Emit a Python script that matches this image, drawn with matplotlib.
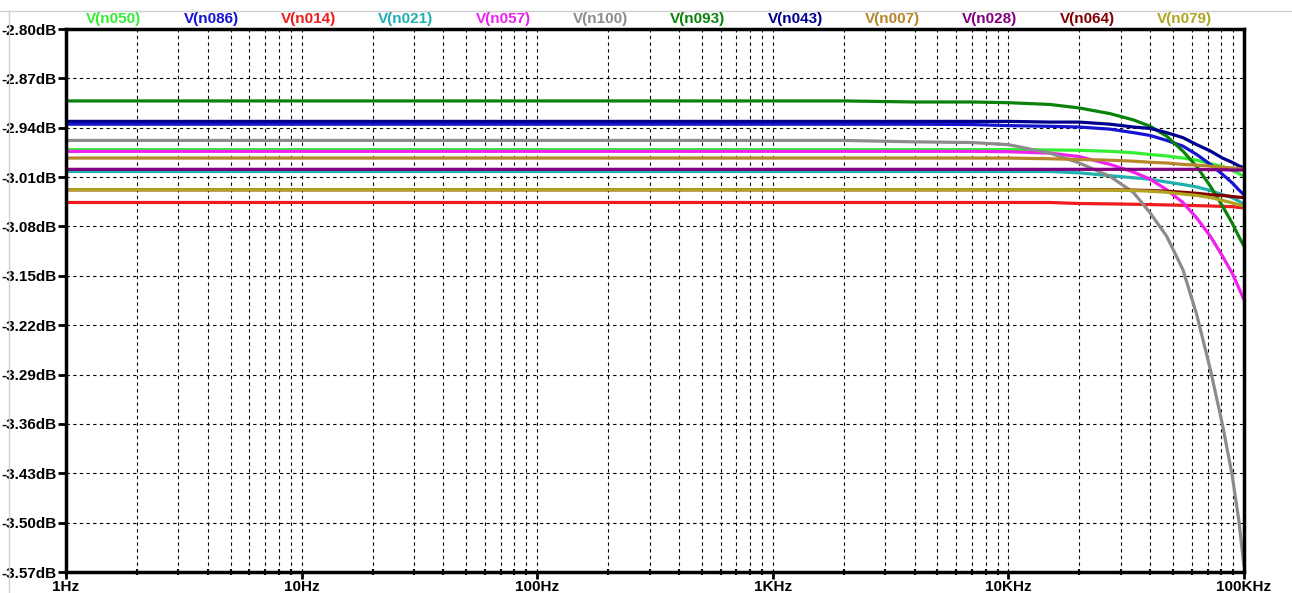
import numpy as np
import matplotlib.pyplot as plt
from matplotlib.lines import Line2D
from matplotlib.ticker import FixedLocator, NullFormatter

# frequency points (Hz) shared by every trace
freq = [1, 1000, 2000, 4000, 7000, 10000, 15000, 20000, 27000, 34000, 40000,
        47000, 55000, 63000, 72000, 81000, 89000, 95000, 100000]

# magnitude in dB
v_n050 = [-2.971, -2.971, -2.971, -2.971, -2.971, -2.971, -2.9715, -2.972, -2.9735, -2.9755,
          -2.978, -2.980, -2.983, -2.986, -2.991, -2.995, -3.000, -3.005, -3.009]
v_n086 = [-2.935, -2.935, -2.935, -2.935, -2.9355, -2.937, -2.938, -2.939, -2.942, -2.947,
          -2.951, -2.958, -2.966, -2.978, -2.992, -3.006, -3.018, -3.028, -3.035]
v_n014 = [-3.046, -3.046, -3.046, -3.046, -3.046, -3.046, -3.046, -3.0475, -3.048, -3.0485,
          -3.049, -3.0495, -3.050, -3.0505, -3.051, -3.0515, -3.052, -3.053, -3.0535]
v_n021 = [-3.002, -3.002, -3.002, -3.002, -3.002, -3.002, -3.002, -3.004, -3.008, -3.011,
          -3.013, -3.017, -3.0205, -3.024, -3.029, -3.035, -3.039, -3.044, -3.049]
v_n057 = [-2.9735, -2.9735, -2.9735, -2.9735, -2.9735, -2.974, -2.976, -2.981, -2.992, -3.003,
          -3.013, -3.028, -3.046, -3.068, -3.094, -3.122, -3.146, -3.167, -3.184]
v_n100 = [-2.958, -2.958, -2.958, -2.960, -2.961, -2.964, -2.976, -2.990, -3.009, -3.032,
          -3.061, -3.094, -3.141, -3.205, -3.283, -3.361, -3.432, -3.496, -3.562]
v_n093 = [-2.902, -2.902, -2.902, -2.9035, -2.9035, -2.9045, -2.907, -2.912, -2.920, -2.929,
          -2.938, -2.952, -2.973, -2.995, -3.023, -3.051, -3.075, -3.094, -3.108]
v_n043 = [-2.931, -2.931, -2.931, -2.931, -2.931, -2.931, -2.932, -2.932, -2.935, -2.939,
          -2.941, -2.947, -2.954, -2.964, -2.973, -2.983, -2.989, -2.994, -2.997]
v_n007 = [-2.983, -2.983, -2.983, -2.983, -2.983, -2.983, -2.984, -2.985, -2.986, -2.9875,
          -2.989, -2.990, -2.992, -2.993, -2.9945, -2.996, -2.997, -2.998, -2.999]
v_n028 = [-2.999, -2.999, -2.999, -2.999, -2.999, -2.999, -2.999, -2.999, -2.999, -2.999,
          -2.999, -2.999, -2.999, -2.999, -2.9995, -2.9995, -3.000, -3.000, -3.000]
v_n064 = [-3.028, -3.028, -3.028, -3.028, -3.028, -3.028, -3.028, -3.028, -3.028, -3.0285,
          -3.029, -3.030, -3.0315, -3.033, -3.035, -3.036, -3.0375, -3.0385, -3.039]
v_n079 = [-3.028, -3.028, -3.028, -3.028, -3.028, -3.028, -3.028, -3.0282, -3.0285, -3.029,
          -3.030, -3.0315, -3.034, -3.036, -3.039, -3.043, -3.0465, -3.049, -3.051]

names = ['V(n050)', 'V(n086)', 'V(n014)', 'V(n021)', 'V(n057)', 'V(n100)',
         'V(n093)', 'V(n043)', 'V(n007)', 'V(n028)', 'V(n064)', 'V(n079)']
series = [v_n050, v_n086, v_n014, v_n021, v_n057, v_n100,
          v_n093, v_n043, v_n007, v_n028, v_n064, v_n079]
colors = ['#33ee33', '#1414d2', '#ee1c1c', '#20b0b0', '#f020f0', '#8c8c8c',
          '#0a820a', '#00008c', '#b8862a', '#800080', '#800000', '#b0a420']

y_ticks = [-2.80, -2.87, -2.94, -3.01, -3.08, -3.15, -3.22, -3.29, -3.36, -3.43, -3.50, -3.57]
x_ticks = [1, 10, 100, 1000, 10000, 100000]
x_labels = ['1Hz', '10Hz', '100Hz', '1KHz', '10KHz', '100KHz']

font = ['Liberation Sans Narrow', 'Liberation Sans', 'DejaVu Sans']

fig = plt.figure(figsize=(12.92, 5.93), dpi=100)
ax = fig.add_axes([66 / 1292, 1 - 572 / 593, (1244 - 66) / 1292, (572 - 29) / 593])

for vals, c in zip(series, colors):
    ax.plot(freq, vals, color=c, lw=2.3, solid_capstyle='butt', zorder=3)

ax.set_xscale('log')
ax.set_xlim(1, 100000)
ax.set_ylim(-3.57, -2.80)

minor = [m * 10 ** d for d in range(5) for m in range(2, 10)]
ax.xaxis.set_major_locator(FixedLocator(x_ticks))
ax.xaxis.set_minor_locator(FixedLocator(minor))
ax.xaxis.set_minor_formatter(NullFormatter())
ax.set_xticks(x_ticks)
ax.set_xticklabels(x_labels)
ax.set_yticks(y_ticks)
ax.set_yticklabels(['%.2fdB' % v for v in y_ticks])

for lab in ax.get_xticklabels() + ax.get_yticklabels():
    lab.set_fontfamily(font)
    lab.set_fontweight('bold')
    lab.set_fontsize(11)

ax.tick_params(axis='y', which='major', direction='out', length=6, width=2, pad=1)
ax.tick_params(axis='x', which='major', direction='out', length=5, width=2, pad=1)
ax.tick_params(axis='x', which='minor', direction='inout', length=5, width=1.5)

ax.grid(True, which='both', axis='x', color='black', lw=0.8, ls=(0, (3, 3)))
ax.grid(True, which='major', axis='y', color='black', lw=0.8, ls=(0, (3, 3)))
ax.set_axisbelow(True)

for s in ax.spines.values():
    s.set_linewidth(2.5)
    s.set_color('black')
    s.set_zorder(4)

# trace names across the top
for i, (n, c) in enumerate(zip(names, colors)):
    fig.text((114 + 97.3 * i) / 1292, 1 - 19 / 593, n, color=c, ha='center', va='center',
             fontsize=11, fontweight='bold', family=font)

# window frame lines
fig.add_artist(Line2D([0, 1], [1 - 11 / 593, 1 - 11 / 593], color='#cfcfcf', lw=1))
fig.add_artist(Line2D([9 / 1292, 9 / 1292], [0, 1 - 11 / 593], color='#cfcfcf', lw=1))

fig.savefig('out.png', dpi=100)
